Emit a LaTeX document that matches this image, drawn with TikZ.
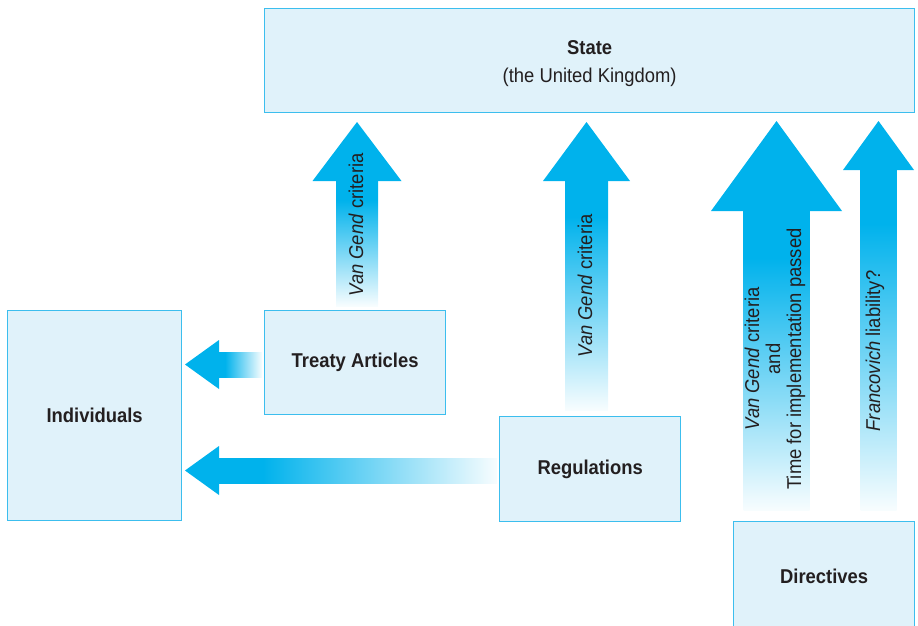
\documentclass[tikz,border=0pt]{standalone}
\usepackage{fontspec}
\setmainfont{Liberation Sans}[FakeStretch=0.92]
\usetikzlibrary{calc}
\definecolor{arrowc}{RGB}{0,178,236}
\definecolor{boxfill}{RGB}{224,242,250}
\definecolor{boxline}{RGB}{60,190,238}
\definecolor{txt}{RGB}{35,31,32}
\pgfdeclareverticalshading{upfade}{100bp}{color(0bp)=(white); color(25bp)=(white!97!arrowc); color(67bp)=(arrowc); color(100bp)=(arrowc)}
\pgfdeclarehorizontalshading{leftfade}{100bp}{color(0bp)=(arrowc); color(33bp)=(arrowc); color(75bp)=(white!97!arrowc); color(100bp)=(white)}
\newcommand\UpArr[6]{%
  \shade[shading=upfade] (#1-#5,#4) rectangle (#1+#5,#3-1);
  \fill[arrowc] (#1-#6,#3) -- (#1,#2) -- (#1+#6,#3) -- cycle;}
\newcommand\LeftArr[6]{%
  \shade[shading=leftfade] (#3-1,#2-#5) rectangle (#4,#2+#5);
  \fill[arrowc] (#3,#2-#6) -- (#1,#2) -- (#3,#2+#6) -- cycle;}
\tikzset{
  box/.style={draw=boxline, fill=boxfill, line width=1.3pt, text=txt,
    font=\bfseries\fontsize{20}{24}\selectfont, align=center, inner sep=0pt, anchor=north west},
  vlabel/.style={rotate=90, text=txt, font=\fontsize{20}{21}\selectfont, align=center, inner sep=0pt}
}
\begin{document}
\begin{tikzpicture}[x=1pt,y=-1pt]
\useasboundingbox (0,0) rectangle (918,625);
% arrows
\UpArr{357}{122}{181}{306}{21}{44.5}
\UpArr{586.5}{122}{181}{410}{21.5}{43.5}
\UpArr{776.5}{121}{211}{510}{33}{65.5}
\UpArr{878.5}{121}{170}{510}{18}{35.5}
\LeftArr{185}{364.5}{219}{262}{12.5}{24.5}
\LeftArr{185}{470.5}{219}{497}{12.5}{24.5}
% boxes
\node[box, minimum width=650pt, minimum height=104pt] (state) at (264,8) {};
\node[text=txt, align=center, inner sep=0pt, font=\bfseries\fontsize{20}{24}\selectfont] (statetxt)
  at ($(state.center)+(0,3)$) {State\\[4pt]{\mdseries (the United Kingdom)}};
\node[box, minimum width=174pt, minimum height=210pt] (ind) at (7,310) {Individuals};
\node[box, minimum width=181pt, minimum height=104pt] (treaty) at (264,310) {Treaty Articles};
\node[box, minimum width=181pt, minimum height=105pt] (reg) at (499,416) {Regulations};
\node[box, minimum width=181pt, minimum height=110pt] (dir) at (733,521) {Directives};
% arrow labels
\node[vlabel] (l1) at (356,225) {\textit{Van Gend} criteria};
\node[vlabel] (l2) at (585,286) {\textit{Van Gend} criteria};
\node[vlabel] (l3) at (775,359) {\textit{Van Gend} criteria\\and\\Time for implementation passed};
\node[vlabel] (l4) at (875,351) {\textit{Francovich} liability?};
\end{tikzpicture}
\end{document}
